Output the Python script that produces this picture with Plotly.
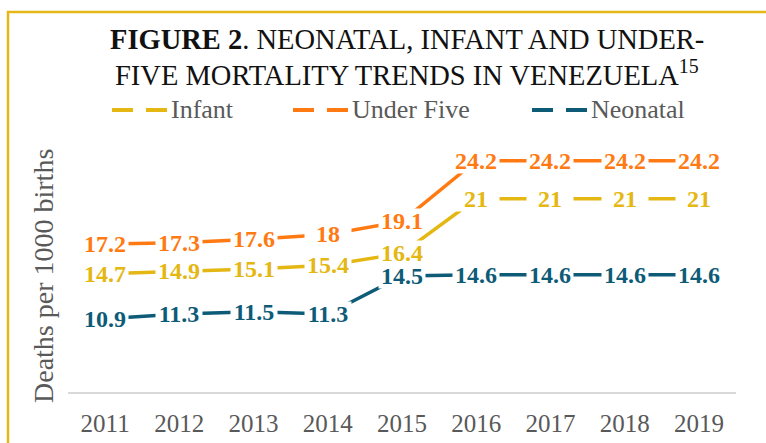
import plotly.graph_objects as go

years = ["2011", "2012", "2013", "2014", "2015", "2016", "2017", "2018", "2019"]
infant = [14.7, 14.9, 15.1, 15.4, 16.4, 21, 21, 21, 21]
under_five = [17.2, 17.3, 17.6, 18, 19.1, 24.2, 24.2, 24.2, 24.2]
neonatal = [10.9, 11.3, 11.5, 11.3, 14.5, 14.6, 14.6, 14.6, 14.6]

series_names = ["Infant", "Under Five", "Neonatal"]
series_values = [infant, under_five, neonatal]
series_colors = ["#E4B712", "#FF7A12", "#0E5B78"]

W, H = 766, 443
L, R, T, B = 68, 30, 150, 51
PW, PH = W - L - R, H - T - B


def px(x):  # pixel -> paper x
    return (x - L) / PW


def py(y):  # pixel -> paper y
    return (H - B - y) / PH


SERIF = "Liberation Serif"
fig = go.Figure()

for name, vals, col in zip(series_names, series_values, series_colors):
    fig.add_trace(go.Scatter(x=years, y=vals, mode="lines", name=name,
                             line=dict(color=col, width=3.5), showlegend=False,
                             hoverinfo="skip"))

annotations = []
for name, vals, col in zip(series_names, series_values, series_colors):
    for i, v in enumerate(vals):
        annotations.append(dict(x=i, y=v, xref="x", yref="y", text="<b>%s</b>" % format(v, "g"),
                                showarrow=False, bgcolor="#FFFFFF", width=44, height=22,
                                font=dict(family=SERIF, size=24, color=col)))

# title (two lines)
annotations.append(dict(
    x=px(406.5), y=py(40), xref="paper", yref="paper", xanchor="center", yanchor="middle",
    text="<b>FIGURE 2</b>. NEONATAL, INFANT AND UNDER-",
    showarrow=False, font=dict(family=SERIF, size=28.5, color="#111111")))
annotations.append(dict(
    x=px(406.5), y=py(73), xref="paper", yref="paper", xanchor="center", yanchor="middle",
    text="FIVE MORTALITY TRENDS IN VENEZUELA<sup>15</sup>",
    showarrow=False, font=dict(family=SERIF, size=28.5, color="#111111")))

# y-axis title
annotations.append(dict(
    x=px(43), y=py(276), xref="paper", yref="paper", xanchor="center", yanchor="middle",
    text="Deaths per 1000 births", textangle=-90, showarrow=False,
    font=dict(family=SERIF, size=28, color="#595959")))

shapes = [
    dict(type="line", xref="paper", yref="paper", x0=px(8), x1=px(8), y0=py(11), y1=py(443),
         line=dict(color="#E6B817", width=2.5)),
    dict(type="line", xref="paper", yref="paper", x0=px(7), x1=px(766), y0=py(12), y1=py(12),
         line=dict(color="#E6B817", width=2.5)),
]

# legend (manual): dash pairs + labels
legend_x = [112, 293, 532]
for name, col, lx in zip(series_names, series_colors, legend_x):
    for off in (0, 34):
        shapes.append(dict(type="line", xref="paper", yref="paper",
                           x0=px(lx + off), x1=px(lx + off + 21), y0=py(110), y1=py(110),
                           line=dict(color=col, width=4)))
    annotations.append(dict(
        x=px(lx + 57), y=py(109), xref="paper", yref="paper", xanchor="left", yanchor="middle",
        text=name, showarrow=False, font=dict(family=SERIF, size=26, color="#595959")))

fig.update_layout(
    width=W, height=H, margin=dict(l=L, r=R, t=T, b=B, autoexpand=False),
    paper_bgcolor="white", plot_bgcolor="white",
    annotations=annotations, shapes=shapes,
    showlegend=False,
    xaxis=dict(type="category", range=[-0.5, 8.5], showgrid=False, showline=True,
               linecolor="#D9D9D9", linewidth=1.5, ticks="", zeroline=False, automargin=False,
               tickfont=dict(family=SERIF, size=25, color="#595959"), ticklabelstandoff=8),
    yaxis=dict(range=[4.75, 25.1], showgrid=False, showticklabels=False, zeroline=False,
               showline=False, automargin=False),
)

fig.write_html("out.html", config={"displayModeBar": False},
               post_script="document.body.style.margin='0';document.body.style.overflow='hidden';")
